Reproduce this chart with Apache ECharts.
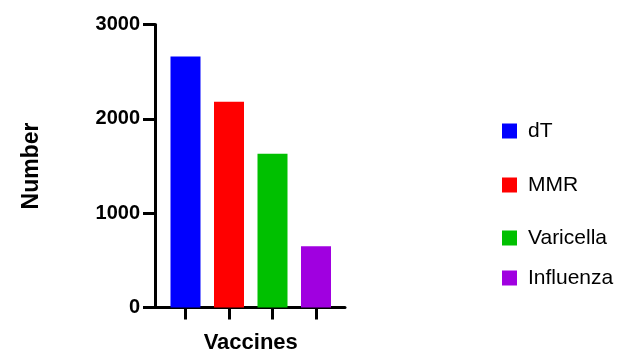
<!DOCTYPE html>
<html>
<head>
<meta charset="utf-8">
<script src="https://cdn.jsdelivr.net/npm/echarts@6/dist/echarts.min.js"></script>
<style>
html,body{margin:0;padding:0;background:#fff;}
#c{width:631px;height:352px;}
</style>
</head>
<body>
<div id="c"></div>
<script>
var categories = ['dT', 'MMR', 'Varicella', 'Influenza'];
var values = [2660, 2180, 1630, 650];
var colors = ['#0000FF', '#FF0000', '#00C000', '#A000E0'];
var yTicks = [0, 1000, 2000, 3000];
var legendTops = [120.5, 174.5, 227.5, 267.5];

var FONT = '"Liberation Sans", Arial, sans-serif';
var TOP = 24.5, BOTTOM = 44.5;

var series = categories.map(function (name, i) {
  return {
    name: name,
    type: 'bar',
    barGap: '-100%',
    xAxisIndex: 0,
    yAxisIndex: 0,
    barWidth: 30,
    itemStyle: { color: colors[i] },
    data: categories.map(function (c, j) { return j === i ? values[i] : null; })
  };
});

var legends = categories.map(function (name, i) {
  return {
    data: [name],
    left: 502,
    top: legendTops[i],
    padding: 0,
    itemWidth: 15,
    itemHeight: 15,
    icon: 'rect',
    selectedMode: false,
    textStyle: { fontFamily: FONT, fontSize: 21, color: '#000', padding: [0, 0, 0, 6] }
  };
});

var chart = echarts.init(document.getElementById('c'), null, { renderer: 'canvas' });
chart.setOption({
  animation: false,
  backgroundColor: '#fff',
  legend: legends,
  grid: [
    { left: 163.75, right: 293.25, top: TOP, bottom: BOTTOM, containLabel: false, outerBoundsMode: 'none' },
    { left: 155, right: 286, top: TOP, bottom: BOTTOM, containLabel: false, outerBoundsMode: 'none' }
  ],
  xAxis: [
    {
      type: 'category', gridIndex: 0, data: categories,
      axisLine: { show: false },
      axisTick: { show: true, interval: 0, alignWithLabel: true, length: 12, lineStyle: { color: '#000', width: 3 } },
      axisLabel: { show: false, interval: 0 },
      name: 'Vaccines', nameLocation: 'middle', nameGap: 24,
      nameTextStyle: { fontFamily: FONT, fontSize: 22, fontWeight: 'bold', color: '#000' }
    },
    {
      type: 'value', gridIndex: 1, min: 0, max: 1,
      axisLine: { show: true, lineStyle: { color: '#000', width: 3 } },
      axisTick: { show: false }, axisLabel: { show: false }, splitLine: { show: false }
    }
  ],
  yAxis: [
    {
      type: 'value', gridIndex: 0, min: 0, max: 3000, interval: 1000,
      show: false, splitLine: { show: false }
    },
    {
      type: 'value', gridIndex: 1, min: 0, max: 3000, interval: 1000,
      axisLine: { show: true, lineStyle: { color: '#000', width: 3 } },
      axisTick: { show: true, length: 12, lineStyle: { color: '#000', width: 3 } },
      axisLabel: {
        margin: 15, fontFamily: FONT, fontSize: 20, fontWeight: 'bold', color: '#000',
        formatter: function (v) { return yTicks.indexOf(v) >= 0 ? String(v) : ''; }
      },
      splitLine: { show: false },
      name: 'Number', nameLocation: 'middle', nameGap: 112,
      nameTextStyle: { fontFamily: FONT, fontSize: 23, fontWeight: 'bold', color: '#000' }
    }
  ],
  series: series
});
</script>
</body>
</html>
